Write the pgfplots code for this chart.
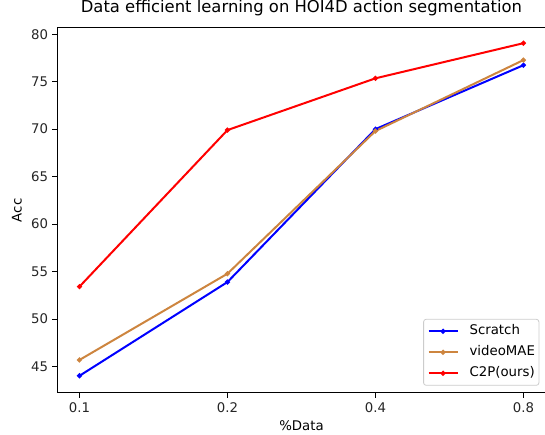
\documentclass[border=0pt]{standalone}
\usepackage{fontspec}
\setmainfont{DejaVu Sans}
\usepackage{pgfplots}
\pgfplotsset{compat=1.18}
\definecolor{mplblue}{RGB}{0,0,255}
\definecolor{mplperu}{RGB}{205,133,63}
\definecolor{mplred}{RGB}{255,0,0}
\definecolor{legedge}{RGB}{204,204,204}
\begin{document}
\begin{tikzpicture}[x=1pt,y=1pt]
\useasboundingbox (0,0) rectangle (545,434);
\begin{axis}[
  at={(57.3pt,41.3pt)}, anchor=south west,
  scale only axis, width=488.3pt, height=364.7pt,
  xmin=-0.15, xmax=3.15, ymin=42.25, ymax=80.65,
  xtick={0,1,2,3}, xticklabels={0.1,0.2,0.4,0.8},
  ytick={45,50,55,60,65,70,75,80},
  /pgf/number format/assume math mode=true,
  tick align=outside, tick pos=left, major tick length=4.8pt,
  every tick/.style={black, line width=1pt},
  axis line style={line width=1pt},
  tick label style={font=\fontsize{13.3}{15}\selectfont, text=black!85},
  xticklabel style={yshift=-1.5pt},
  yticklabel style={xshift=-1pt},
  title={Data efficient learning on HOI4D action segmentation},
  title style={at={(axis description cs:0.5,1)}, anchor=base, yshift=9.7pt, font=\fontsize{16.4}{19}\selectfont},
  xlabel={\%Data},
  xlabel style={at={(axis description cs:0.5,0)}, anchor=base, yshift=-37.5pt, font=\fontsize{13.3}{15}\selectfont},
  ylabel={Acc},
  ylabel style={at={(axis description cs:-0.0729,0.5)}, anchor=base, rotate=0, font=\fontsize{13.3}{15}\selectfont},
  legend style={at={(axis description cs:1,0)}, anchor=south east, xshift=-6.3pt, yshift=7pt,
    draw=legedge, line width=0.8pt, rounded corners=2.5pt, fill=white, fill opacity=0.8, text opacity=1,
    font=\fontsize{13.3}{15}\selectfont, inner xsep=4pt, inner ysep=5.5pt, row sep=8pt, column sep=11pt,
    nodes={inner sep=0pt, text height=10pt, text depth=3pt}},
  legend cell align=left,
  legend image code/.code={
    \draw[mark repeat=2,mark phase=2] plot coordinates {(0pt,0pt)(14.5pt,0pt)(29pt,0pt)};
  },
  every axis plot/.append style={line width=2pt, mark=*, mark size=1.4pt},
]
\addplot[color=mplblue, mark options={fill=mplblue, draw=mplblue}] coordinates {(0,44.03)(1,53.9)(2,70.0)(3,76.73)};
\addlegendentry{Scratch}
\addplot[color=mplperu, mark options={fill=mplperu, draw=mplperu}] coordinates {(0,45.7)(1,54.78)(2,69.8)(3,77.27)};
\addlegendentry{videoMAE}
\addplot[color=mplred, mark options={fill=mplred, draw=mplred}] coordinates {(0,53.42)(1,69.9)(2,75.35)(3,79.05)};
\addlegendentry{C2P(ours)}
\end{axis}
\end{tikzpicture}
\end{document}
